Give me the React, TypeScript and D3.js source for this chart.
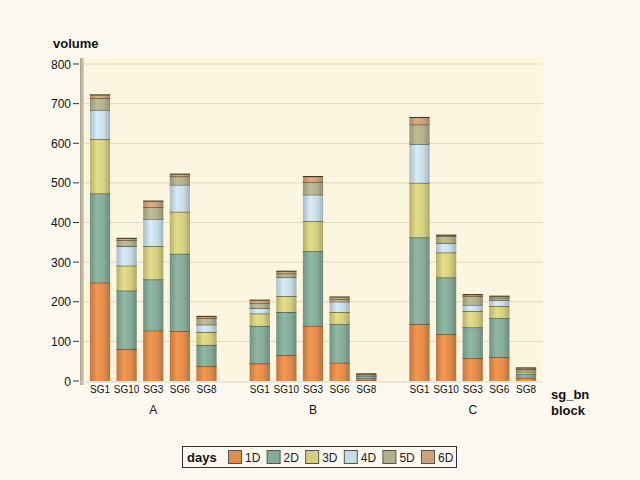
import React from "react";
import * as d3 from "d3";

const blocks = ["A", "B", "C"];
const sgs = ["SG1", "SG10", "SG3", "SG6", "SG8"];
const days = ["1D", "2D", "3D", "4D", "5D", "6D"];
const yTicks = [0, 100, 200, 300, 400, 500, 600, 700, 800];

// values per block, per sg, per day
const valsA = [
  [248, 225, 137, 74, 30, 8],
  [80, 148, 63, 49, 15, 5],
  [127, 129, 84, 69, 30, 15],
  [126, 195, 106, 68, 21, 6],
  [38, 53, 32, 19, 16, 5],
];
const valsB = [
  [44, 95, 31, 14, 13, 7],
  [65, 109, 40, 48, 9, 6],
  [139, 188, 76, 67, 31, 15],
  [46, 97, 31, 26, 7, 5],
  [3, 5, 3, 2, 3, 2],
];
const valsC = [
  [143, 219, 138, 98, 49, 18],
  [118, 143, 63, 24, 18, 2],
  [58, 77, 41, 16, 22, 4],
  [60, 98, 31, 15, 6, 4],
  [8, 10, 5, 3, 4, 3],
];
const values = [valsA, valsB, valsC];

const colors = ["#e28c4c", "#86ab99", "#d4cf80", "#c8dce5", "#b4b08d", "#cda17a"];

const W = 640, H = 480;
const left = 86.7, right = 539.3, top = 56, bottom = 381;

export default function App() {
  const slots: { block: number; sg: number; slot: number }[] = [];
  blocks.forEach((b, bi) => sgs.forEach((s, si) => slots.push({ block: bi, sg: si, slot: bi * 6 + si })));
  const x = d3.scaleBand<number>().domain(d3.range(17)).range([left, right]).paddingInner(0.24).paddingOuter(0.12);
  const y = d3.scaleLinear().domain([0, 800]).range([bottom, 64]);
  const bw = x.bandwidth();
  const font = "'Liberation Sans', Arial, sans-serif";

  return (
    <svg width={W} height={H} style={{ position: "absolute", left: 0, top: 0, background: "#fdf9f0" }}>
      <defs>
        {colors.map((c, i) => {
          const base = d3.color(c)!;
          return (
            <linearGradient id={`g${i}`} key={i} x1="0" x2="1" y1="0" y2="0">
              <stop offset="0" stopColor={base.darker(0.45).toString()} />
              <stop offset="0.35" stopColor={base.brighter(0.2).toString()} />
              <stop offset="0.7" stopColor={c} />
              <stop offset="1" stopColor={base.darker(0.6).toString()} />
            </linearGradient>
          );
        })}
        <linearGradient id="wall" x1="0" x2="1" y1="0" y2="0">
          <stop offset="0" stopColor="#a8a290" />
          <stop offset="1" stopColor="#d8d2bc" />
        </linearGradient>
      </defs>
      <rect x={84} y={top} width={543 - 84} height={bottom - top} fill="#fcf5e0" />
      <rect x={80} y={top + 2} width={4} height={bottom - top + 2} fill="url(#wall)" />
      {yTicks.map((t) => (
        <g key={t}>
          {t > 0 && <line x1={84} x2={543} y1={y(t)} y2={y(t)} stroke="#e2d7b8" strokeWidth={1} />}
          <line x1={73} x2={79} y1={y(t)} y2={y(t)} stroke="#333" strokeWidth={1} />
          <text x={71} y={y(t) + 4.5} textAnchor="end" fontSize={12} fontFamily={font} fill="#111">{t}</text>
        </g>
      ))}
      <line x1={80} x2={543} y1={bottom + 1} y2={bottom + 1} stroke="#d8d2bc" />
      {slots.map(({ block, sg, slot }) => {
        const vals = values[block][sg];
        let acc = 0;
        const x0 = x(slot)!;
        return (
          <g key={slot}>
            {vals.map((v, di) => {
              const y0 = y(acc);
              acc += v;
              const y1 = y(acc);
              return (
                <g key={di}>
                  <rect x={x0} y={y1} width={bw} height={Math.max(0.5, y0 - y1)} fill={`url(#g${di})`} />
                  <line x1={x0} x2={x0 + bw} y1={y1} y2={y1} stroke="#3b3a22" strokeWidth={1.1} />
                </g>
              );
            })}
            <text x={x0 + bw / 2} y={393} textAnchor="middle" fontSize={10} fontFamily={font} fill="#111">{sgs[sg]}</text>
          </g>
        );
      })}
      {blocks.map((b, bi) => (
        <text key={b} x={x(bi * 6 + 2)! + bw / 2} y={414} textAnchor="middle" fontSize={12} fontFamily={font} fill="#111">{b}</text>
      ))}
      <text x={53} y={48} fontSize={13} fontWeight="bold" fontFamily={font} fill="#111">volume</text>
      <text x={551} y={399} fontSize={13} fontWeight="bold" fontFamily={font} fill="#111">sg_bn</text>
      <text x={551} y={415} fontSize={13} fontWeight="bold" fontFamily={font} fill="#111">block</text>
      <g>
        <rect x={182.5} y={446.5} width={274} height={21} fill="#fdf9f0" stroke="#333" />
        <text x={187} y={462} fontSize={13} fontWeight="bold" fontFamily={font} fill="#111">days</text>
        {days.map((d, i) => (
          <g key={d} transform={`translate(${228 + i * 38.6},0)`}>
            <rect x={0.5} y={450.5} width={13} height={13} fill={colors[i]} stroke="#555" />
            <text x={17} y={462} fontSize={12} fontFamily={font} fill="#222">{d}</text>
          </g>
        ))}
      </g>
    </svg>
  );
}
